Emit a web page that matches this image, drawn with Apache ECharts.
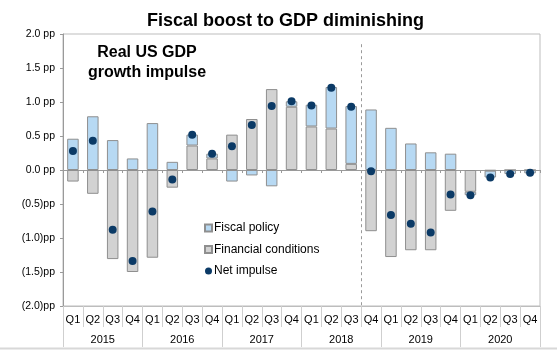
<!DOCTYPE html>
<html><head><meta charset="utf-8">
<script src="https://cdn.jsdelivr.net/npm/echarts@6/dist/echarts.min.js"></script>
<style>html,body{margin:0;padding:0;background:#fff}#c{width:557px;height:360px}</style>
</head><body><div id="c"></div>
<script>
const quarters = ['Q1','Q2','Q3','Q4','Q1','Q2','Q3','Q4','Q1','Q2','Q3','Q4','Q1','Q2','Q3','Q4','Q1','Q2','Q3','Q4','Q1','Q2','Q3','Q4'];
const years = ['2015','2016','2017','2018','2019','2020'];
const financial = [-0.17,-0.35,-1.31,-1.50,-1.29,-0.26,0.36,0.17,0.52,0.75,1.19,0.93,0.64,0.61,0.09,-0.90,-1.28,-1.18,-1.18,-0.60,-0.32,-0.01,0,0];
const fiscal = [0.46,0.79,0.44,0.17,0.69,0.12,0.16,0.07,-0.17,-0.08,-0.24,0.08,0.32,0.61,0.85,0.89,0.62,0.39,0.26,0.24,-0.05,-0.10,-0.06,-0.05];
const net = [0.28,0.43,-0.88,-1.34,-0.61,-0.14,0.52,0.24,0.35,0.66,0.94,1.01,0.95,1.21,0.93,-0.02,-0.66,-0.79,-0.92,-0.36,-0.37,-0.11,-0.06,-0.04];
const dividerAt = 15; // between 2018 Q3 and Q4 (category boundary index)
const dividerTop = 1.85;

const FONT = '"Liberation Sans", Arial, sans-serif';
const chart = echarts.init(document.getElementById('c'), null, {renderer:'canvas'});
chart.setOption({
  animation: false,
  textStyle: {fontFamily: FONT},
  title: {
    text: 'Fiscal boost to GDP diminishing',
    left: 142, top: 7,
    textStyle: {fontFamily: FONT, fontSize: 18, fontWeight: 'bold', color: '#000'}
  },
  graphic: [
    {type:'text', x: 147, y: 43, style:{text:'Real US GDP\ngrowth impulse', font:'bold 16px ' + FONT, fill:'#000', textAlign:'center', textVerticalAlign:'top', lineHeight:20}},
    {type:'line', shape:{x1:0,y1:348.5,x2:557,y2:348.5}, style:{stroke:'#d8d8d8', lineWidth:2}}
  ],
  legend: {
    data: [{name:'Fiscal policy', icon:'rect'},{name:'Financial conditions', icon:'rect'},{name:'Net impulse', icon:'circle'}],
    orient: 'vertical', left: 199, top: 216,
    itemWidth: 7, itemHeight: 7, itemGap: 7.5,
    textStyle: {fontFamily: FONT, fontSize: 12, color: '#000', lineHeight: 14, padding:[0,0,0,-3]}
  },
  grid: {left: 63, right: 17, top: 34, bottom: 54, show: true, borderColor: '#bdbdbd', borderWidth: 1},
  xAxis: [
    {type:'category', data: quarters, axisLine:{onZero:true, lineStyle:{color:'#9a9a9a'}},
     axisTick:{show:true, interval:0, length:3, lineStyle:{color:'#9a9a9a'}}, axisLabel:{show:false}},
    {type:'category', data: quarters, position:'bottom', axisLine:{onZero:false, lineStyle:{color:'#bdbdbd'}},
     axisTick:{show:true, interval:0, length:21, lineStyle:{color:'#cfcfcf'}},
     axisLabel:{interval:0, margin:8, fontSize:11, color:'#000', fontFamily:FONT}},
    {type:'category', data: years, position:'bottom', axisLine:{onZero:false, show:false},
     axisTick:{show:true, interval:0, length:41, lineStyle:{color:'#cfcfcf'}},
     axisLabel:{interval:0, margin:28, fontSize:11, color:'#000', fontFamily:FONT}},
    {type:'value', min:0, max:24, show:false}
  ],
  yAxis: {
    type:'value', min:-2, max:2, interval:0.5,
    splitLine:{show:false},
    axisLine:{show:true, lineStyle:{color:'#9a9a9a'}},
    axisTick:{show:true, length:3, lineStyle:{color:'#9a9a9a'}},
    axisLabel:{fontSize:10.5, color:'#000', margin:8, fontFamily:FONT,
      formatter: v => v >= 0 ? v.toFixed(1) + ' pp' : '(' + Math.abs(v).toFixed(1) + ')pp'}
  },
  series: [
    {name:'Financial conditions', type:'bar', stack:'a', xAxisIndex:0, data: financial, barWidth:'58%',
     itemStyle:{color:'#d2d2d2', borderColor:'#8f8f8f', borderWidth:1}},
    {name:'Fiscal policy', type:'bar', stack:'a', xAxisIndex:0, data: fiscal, barWidth:'58%',
     itemStyle:{color:'#b7d9f3', borderColor:'#8f8f8f', borderWidth:1}},
    {name:'Net impulse', type:'scatter', xAxisIndex:0, data: net, symbol:'circle', symbolSize:8,
     itemStyle:{color:'#0b3a66', opacity:1, borderWidth:0}, z:5},
    {name:'divider', type:'line', xAxisIndex:3, data:[], silent:true,
     markLine:{silent:true, symbol:['none','none'], label:{show:false},
       lineStyle:{color:'#9a9a9a', type:[3,3], width:1},
       data:[[{coord:[dividerAt, dividerTop]},{coord:[dividerAt, -2]}]]}}
  ]
});
</script></body></html>
